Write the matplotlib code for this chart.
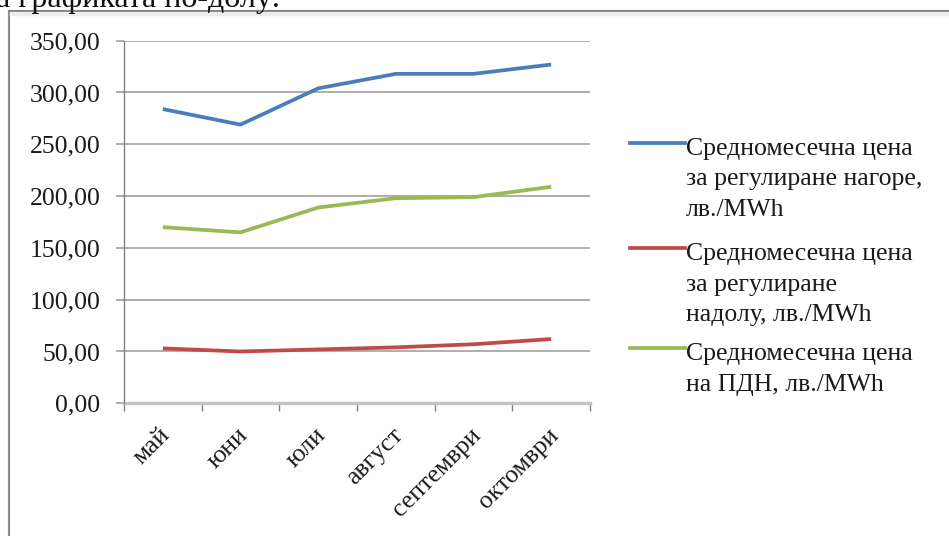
import matplotlib
matplotlib.use("Agg")
import matplotlib.pyplot as plt
import matplotlib.transforms as mtransforms
from matplotlib.lines import Line2D
from matplotlib.patches import Rectangle
from matplotlib.ticker import FixedLocator, FuncFormatter

plt.rcParams['font.family'] = ['Liberation Serif', 'DejaVu Serif']

months = ["май", "юни", "юли", "август", "септември", "октомври"]
price_up = [284, 269, 304, 318, 318, 327]
price_down = [53, 50, 52, 54, 57, 62]
price_pdn = [170, 165, 189, 198, 199, 209]

series_labels = [
    "Средномесечна цена\nза регулиране нагоре,\nлв./MWh",
    "Средномесечна цена\nза регулиране\nнадолу, лв./MWh",
    "Средномесечна цена\nна ПДН, лв./MWh",
]
series_colors = ["#4A7EBB", "#BE4B48", "#98B954"]
y_ticks = [0, 50, 100, 150, 200, 250, 300, 350]

W, H = 949, 536
fig = plt.figure(figsize=(W / 100, H / 100), dpi=100)
fig.patch.set_facecolor("white")

def px(x, y):
    return x / W, 1 - y / H

# Frame around the chart object and the clipped caption line above it
fig.add_artist(Rectangle(px(9, 600), (W + 50) / W, (600 - 11) / H,
                         transform=fig.transFigure, fill=False,
                         edgecolor="#8a8a8a", linewidth=1.6))
fig.add_artist(Line2D([px(11, 0)[0], 1.05], [px(0, 14)[1]] * 2,
                      transform=fig.transFigure, color="#ededed", lw=2.5))
fig.text(-0.004, 1 - 7 / H, "а графиката по-долу:", fontsize=23,
         ha="left", va="baseline", color="#111111")

left, right = 124, 590
top, bottom = 40.7, 403.3
ax = fig.add_axes([left / W, 1 - bottom / H, (right - left) / W, (bottom - top) / H])

x = list(range(len(months)))
for vals, col in zip([price_up, price_down, price_pdn], series_colors):
    ax.plot(x, vals, color=col, lw=2.7, solid_capstyle="butt", zorder=3)

ax.set_xlim(-0.5, len(months) - 0.5)
ax.set_ylim(0, 350)

ax.yaxis.set_major_locator(FixedLocator(y_ticks))
ax.yaxis.set_major_formatter(FuncFormatter(lambda v, p: f"{v:.2f}".replace(".", ",")))
ax.grid(axis="y", color="#a8a8a8", lw=1.3, zorder=1)
ax.tick_params(axis="y", direction="out", length=6, width=1.3, color="#a8a8a8",
               pad=11, labelsize=18.5, labelcolor="#1a1a1a")

ax.xaxis.set_major_locator(FixedLocator([i - 0.5 for i in range(len(months) + 1)]))
ax.xaxis.set_major_formatter(FuncFormatter(lambda v, p: ""))
ax.xaxis.set_minor_locator(FixedLocator(x))
ax.set_xticklabels(months, minor=True)
ax.tick_params(axis="x", which="major", direction="out", length=6, width=1, color="#808080")
ax.tick_params(axis="x", which="minor", length=0, pad=15, labelsize=18.5, labelcolor="#1a1a1a")
shift = mtransforms.ScaledTranslation(-4 / 100, 0, fig.dpi_scale_trans)
for lab in ax.get_xticklabels(minor=True):
    lab.set_rotation(45)
    lab.set_ha("right")
    lab.set_va("top")
    lab.set_rotation_mode("anchor")
    lab.set_transform(lab.get_transform() + shift)

for s in ["top", "right"]:
    ax.spines[s].set_visible(False)
ax.spines["left"].set_color("#808080")
ax.spines["left"].set_linewidth(1.0)
ax.spines["bottom"].set_color("#c4c4c4")
ax.spines["bottom"].set_linewidth(2.5)
ax.spines["bottom"].set_zorder(2)

# Legend: handle aligned with the first line of each entry
entry_ys = [143, 248, 348]
for lab, col, yy in zip(series_labels, series_colors, entry_ys):
    x0, y0 = px(630, yy)
    x1, _ = px(685, yy)
    fig.add_artist(Line2D([x0, x1], [y0, y0], transform=fig.transFigure,
                          color=col, lw=2.7))
    fig.text(px(686, 0)[0], px(0, yy - 5)[1], lab, fontsize=18.5, ha="left",
             va="top", linespacing=1.5, color="#1a1a1a")

fig.savefig("out.png", dpi=100)
